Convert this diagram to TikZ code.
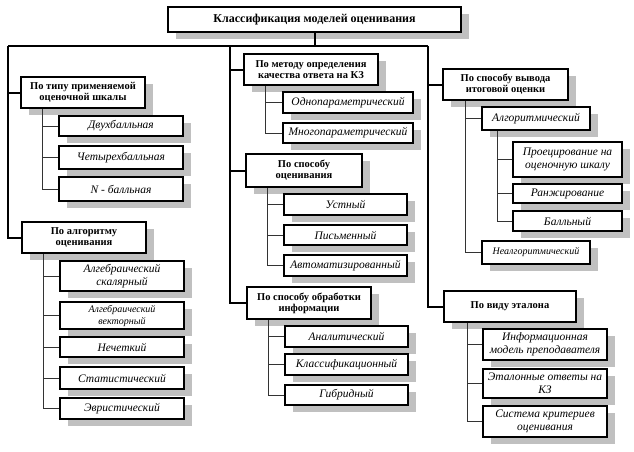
\documentclass[tikz,border=0pt]{standalone}
\usepackage{fontspec}
\setmainfont{Liberation Serif}
\usetikzlibrary{shadows}
\definecolor{shd}{RGB}{192,192,192}
\tikzset{
 base/.style={draw=black, fill=white, inner sep=1pt, align=center,
   general shadow={fill=shd, shadow xshift=8pt, shadow yshift=-7pt}},
 head/.style={base, line width=2.4pt, font=\fontsize{10.5}{11}\selectfont\bfseries},
 leaf/.style={base, line width=1.2pt, font=\fontsize{11.5}{13}\selectfont\itshape},
 leafs/.style={base, line width=1.2pt, font=\fontsize{10}{12}\selectfont\itshape},
 ttl/.style={base, line width=1.2pt, font=\fontsize{12}{14}\selectfont\bfseries},
 main/.style={line width=2pt, black},
 sub/.style={line width=1pt, black!80},
}
\newcommand\bx[7]{\node[#6, minimum width={(#4-#2)*1pt}, minimum height={(#5-#3)*1pt}] (#1) at ({(#2+#4)/2},{(#3+#5)/2}) {#7};}
\begin{document}
\begin{tikzpicture}[x=1pt,y=-1pt]
\useasboundingbox (0,0) rectangle (634,452);
\bx{title}{168}{7}{461}{32}{ttl}{Классификация моделей оценивания}
\bx{tip}{21}{77}{145}{108}{head}{По типу применяемой\\оценочной шкалы}
\bx{d2}{59}{116}{183}{136}{leaf}{Двухбалльная}
\bx{d4}{59}{146}{183}{169}{leaf}{Четырехбалльная}
\bx{dn}{59}{177}{183}{201}{leaf}{N - балльная}
\bx{alg}{22}{222}{146}{253}{head}{По алгоритму\\оценивания}
\bx{as}{60}{261}{184}{291}{leaf}{Алгебраический\\скалярный}
\bx{av}{60}{302}{184}{329}{leafs}{Алгебраический\\векторный}
\bx{ne}{60}{337}{184}{357}{leaf}{Нечеткий}
\bx{st}{60}{367}{184}{389}{leaf}{Статистический}
\bx{ev}{60}{398}{184}{419}{leaf}{Эвристический}
\bx{met}{244}{54}{378}{85}{head}{По методу определения\\качества ответа на КЗ}
\bx{od}{283}{92}{413}{113}{leaf}{Однопараметрический}
\bx{mn}{283}{123}{413}{143}{leaf}{Многопараметрический}
\bx{spo}{246}{154}{362}{187}{head}{По способу\\оценивания}
\bx{us}{284}{194}{407}{215}{leaf}{Устный}
\bx{pi}{284}{225}{407}{245}{leaf}{Письменный}
\bx{au}{284}{255}{407}{276}{leaf}{Автоматизированный}
\bx{obr}{247}{287}{371}{319}{head}{По способу обработки\\информации}
\bx{an}{285}{326}{408}{347}{leaf}{Аналитический}
\bx{kl}{285}{354}{408}{375}{leaf}{Классификационный}
\bx{gi}{285}{385}{408}{405}{leaf}{Гибридный}
\bx{vyv}{443}{69}{568}{100}{head}{По способу вывода\\итоговой оценки}
\bx{am}{482}{107}{590}{130}{leaf}{Алгоритмический}
\bx{pr}{513}{142}{622}{177}{leaf}{Проецирование на\\оценочную шкалу}
\bx{ra}{513}{184}{622}{203}{leaf}{Ранжирование}
\bx{ba}{513}{211}{622}{231}{leaf}{Балльный}
\bx{na}{482}{241}{590}{264}{leafs}{Неалгоритмический}
\bx{et}{444}{291}{576}{322}{head}{По виду эталона}
\bx{im}{483}{329}{607}{360}{leaf}{Информационная\\модель преподавателя}
\bx{eo}{483}{369}{607}{398}{leaf}{Эталонные ответы на\\КЗ}
\bx{sk}{483}{406}{607}{437}{leaf}{Система критериев\\оценивания}
% main structure
\coordinate (L1) at (8,46);
\coordinate (M1) at (230,46);
\coordinate (R1) at (428,46);
\draw[main] (title.south) -- (title.south |- L1);
\draw[main] (L1) -- (R1);
\draw[main] (L1) |- (tip.west) (L1) |- (alg.west);
\draw[main] (M1) |- (met.west) (M1) |- (spo.west) (M1) |- (obr.west);
\draw[main] (R1) |- (vyv.west) (R1) |- (et.west);
% sub trees
\draw[sub] ([xshift=23pt]tip.south west) |- (d2.west) ([xshift=23pt]tip.south west) |- (d4.west) ([xshift=23pt]tip.south west) |- (dn.west);
\draw[sub] ([xshift=23pt]alg.south west) |- (as.west) ([xshift=23pt]alg.south west) |- (av.west) ([xshift=23pt]alg.south west) |- (ne.west) ([xshift=23pt]alg.south west) |- (st.west) ([xshift=23pt]alg.south west) |- (ev.west);
\draw[sub] ([xshift=23pt]met.south west) |- (od.west) ([xshift=23pt]met.south west) |- (mn.west);
\draw[sub] ([xshift=23pt]spo.south west) |- (us.west) ([xshift=23pt]spo.south west) |- (pi.west) ([xshift=23pt]spo.south west) |- (au.west);
\draw[sub] ([xshift=23pt]obr.south west) |- (an.west) ([xshift=23pt]obr.south west) |- (kl.west) ([xshift=23pt]obr.south west) |- (gi.west);
\draw[sub] ([xshift=24pt]vyv.south west) |- (am.west) ([xshift=24pt]vyv.south west) |- (na.west);
\draw[sub] ([xshift=16pt]am.south west) |- (pr.west) ([xshift=16pt]am.south west) |- (ra.west) ([xshift=16pt]am.south west) |- (ba.west);
\draw[sub] ([xshift=25pt]et.south west) |- (im.west) ([xshift=25pt]et.south west) |- (eo.west) ([xshift=25pt]et.south west) |- (sk.west);
\end{tikzpicture}
\end{document}
